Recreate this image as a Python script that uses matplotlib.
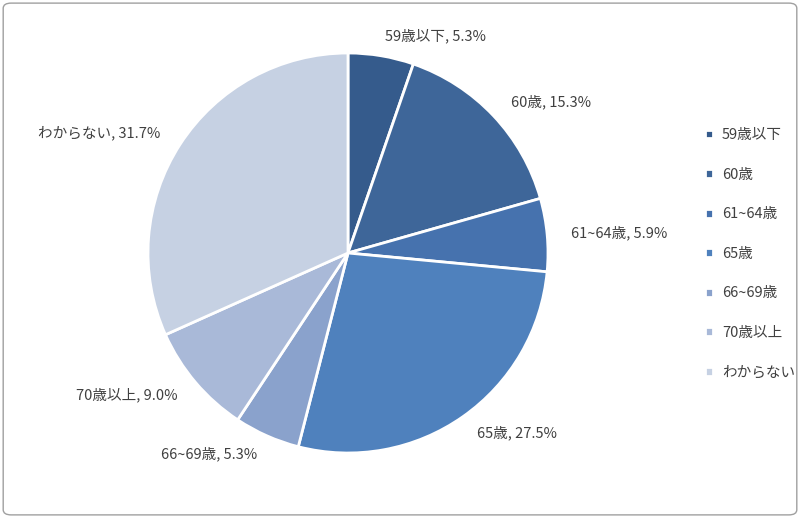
import matplotlib
matplotlib.use("Agg")
import matplotlib.pyplot as plt
import numpy as np
from matplotlib.patches import FancyBboxPatch

plt.rcParams['font.family'] = ['Noto Sans CJK JP', 'DejaVu Sans']

categories = ["59歳以下", "60歳", "61~64歳", "65歳", "66~69歳", "70歳以上", "わからない"]
values = [5.3, 15.3, 5.9, 27.5, 5.3, 9.0, 31.7]
colors = ["#355b8c", "#3e6699", "#4672ae", "#4f81bd", "#8aa2cc", "#a9b9d8", "#c6d1e3"]

fig = plt.figure(figsize=(8, 5.18), dpi=100)
fig.patches.append(FancyBboxPatch((0.004, 0.006), 0.992, 0.988, boxstyle="round,pad=0,rounding_size=0.01",
                                  transform=fig.transFigure, fill=False, edgecolor="#a0a0a0", linewidth=1))
ax = fig.add_axes([148/800, 65/518, 400/800, 400/518])
wedges, _ = ax.pie(values, colors=colors, startangle=90, counterclock=False,
                   wedgeprops=dict(edgecolor="white", linewidth=2))
ax.set_xlim(-1, 1)
ax.set_ylim(-1, 1)
ax.set_aspect('equal')
for w, c, v in zip(wedges, categories, values):
    ang = np.deg2rad((w.theta1 + w.theta2) / 2)
    x, y = 1.12 * np.cos(ang), 1.1 * np.sin(ang)
    ha = 'left' if x > 0.05 else ('right' if x < -0.05 else 'center')
    ax.text(x, y, f"{c}, {v:.1f}%", ha=ha, va='center', fontsize=10.5, color="#404040", clip_on=False)

leg = fig.legend(wedges, categories, loc='center left', bbox_to_anchor=(0.865, 0.51),
                 frameon=False, fontsize=10.5, handlelength=0.55, handleheight=0.55,
                 labelspacing=1.75, handletextpad=0.6)
for t in leg.get_texts():
    t.set_color("#404040")
fig.savefig("out.png", dpi=100)
